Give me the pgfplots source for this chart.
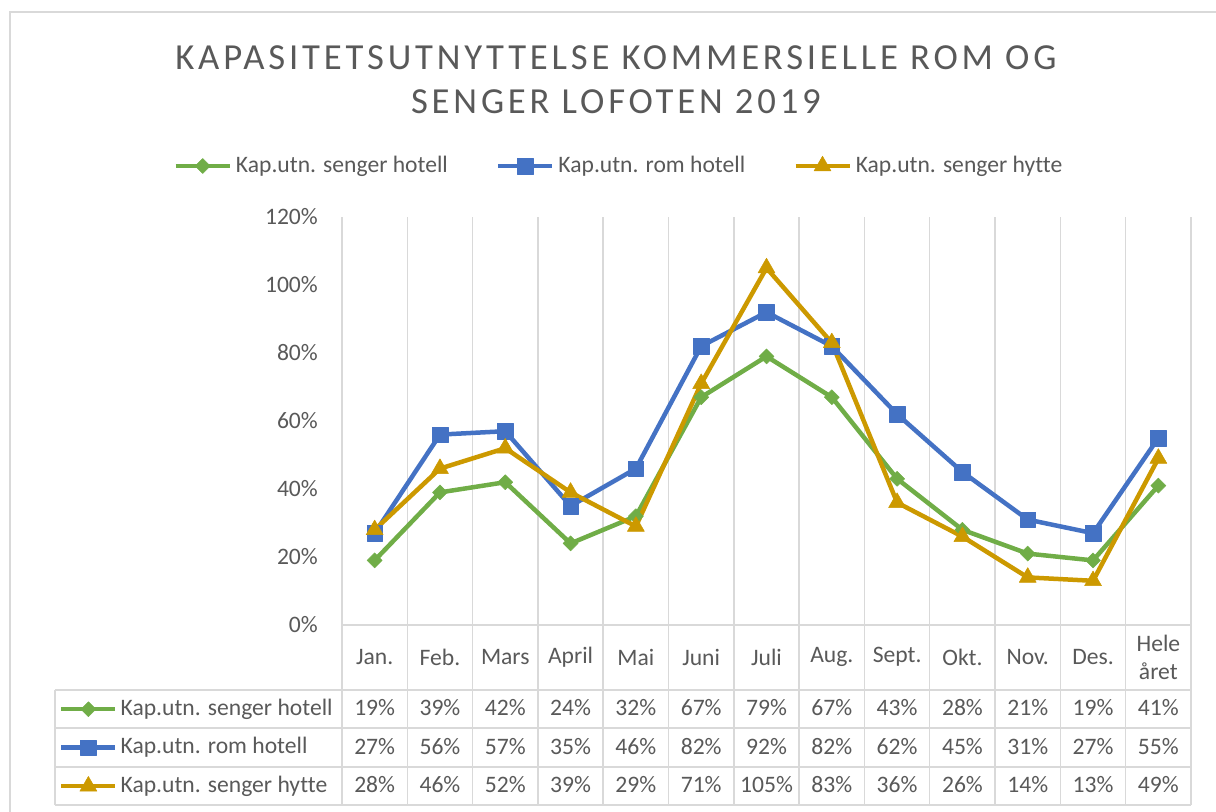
\documentclass[border=0pt]{standalone}
\usepackage{pgfplots}
\pgfplotsset{compat=1.18}
\usepackage{pgfplotstable}
\usepackage{fontspec}
\setmainfont{Carlito}[Ligatures=NoCommon]
\definecolor{cgreen}{HTML}{70AD47}
\definecolor{cblue}{HTML}{4472C4}
\definecolor{cgold}{HTML}{CC9900}
\definecolor{ctext}{HTML}{595959}
\definecolor{cgrid}{HTML}{D9D9D9}

\pgfplotstableread{
x a b c
0 19 27 28
1 39 56 46
2 42 57 52
3 24 35 39
4 32 46 29
5 67 82 71
6 79 92 105
7 67 82 83
8 43 62 36
9 28 45 26
10 21 31 14
11 19 27 13
12 41 55 49
}\data

\newcommand{\bodyfont}{\fontsize{23.6bp}{28bp}\selectfont}

\pgfplotsset{
  keyimg/.style={legend image code/.code={\draw[mark repeat=2,mark phase=2,##1] plot coordinates {(0bp,0bp)(27bp,0bp)(54bp,0bp)};}},
  sgreen/.style={cgreen, line width=4.5bp, line join=round, mark=square*, mark size=5.3bp, mark options={rotate=45, solid, line width=0.5bp}},
  sblue/.style={cblue, line width=4.5bp, line join=round, mark=square*, mark size=7.8bp, mark options={solid, line width=0.5bp}},
  sgold/.style={cgold, line width=4.5bp, line join=round, mark=triangle*, mark size=9.8bp, mark options={solid, line width=0.5bp}},
  tabrow/.style={forget plot, draw=none, mark=none, point meta=explicit,
    nodes near coords={\pgfmathprintnumber[fixed,precision=0]{\pgfplotspointmeta}\%},
    nodes near coords align=center,
    every node near coord/.append style={font=\bodyfont, text=ctext, inner sep=0pt}},
  base/.style={at={(342bp,-625bp)}, anchor=south west, scale only axis,
    width=849bp, height=408bp, xmin=-0.5, xmax=12.5, ymin=0, ymax=120, clip=false,
    /pgf/number format/assume math mode=true},
}

\begin{document}
\begin{tikzpicture}
\path[use as bounding box] (0,0) rectangle (1216bp,-812bp);
\begin{scope}[x=1bp,y=-1bp]
  \draw[cgrid, line width=1.5bp] (10,812) -- (10,12) -- (1216,12);
  \node[anchor=base, text=ctext, font=\fontsize{36.7bp}{44bp}\selectfont\addfontfeature{LetterSpace=10.4}] at (616,69) {KAPASITETSUTNYTTELSE KOMMERSIELLE ROM OG};
  \node[anchor=base, text=ctext, font=\fontsize{36.7bp}{44bp}\selectfont\addfontfeature{LetterSpace=10.4}] at (616,113) {SENGER LOFOTEN 2019};
  \foreach \k in {0,...,13} {
    \draw[cgrid, line width=1.5bp] ({342+\k*65.3},217) -- ({342+\k*65.3},805);
  }
  \draw[cgrid, line width=1.5bp] (342,625) -- (1191,625);
  \foreach \yy in {690,728,767,805} {
    \draw[cgrid, line width=1.5bp] (55,\yy) -- (1191,\yy);
  }
  \draw[cgrid, line width=1.5bp] (55,690) -- (55,805);
\end{scope}

\begin{axis}[base,
  axis line style={draw=none},
  major tick length=0pt,
  ytick={0,20,...,120},
  yticklabel={\pgfmathprintnumber{\tick}\%},
  yticklabel style={anchor=east, inner xsep=0pt, xshift=-24bp, font=\bodyfont, text=ctext},
  xtick={0,...,12},
  xticklabels={Jan.,Feb.,Mars,April,Mai,Juni,Juli,Aug.,Sept.,Okt.,Nov.,Des.,{Hele\\året}},
  xticklabel style={anchor=center, yshift=-32bp, align=center, font=\bodyfont, text=ctext},
  keyimg,
  legend columns=3,
  legend style={at={(0.325,1.125)}, anchor=center, draw=none, fill=none, inner sep=0pt,
    font=\bodyfont, text=ctext,
    nodes={inner sep=0pt, text height=20bp, text depth=8bp},
    /tikz/every odd column/.append style={column sep=4bp},
    /tikz/every even column/.append style={column sep=48bp}},
]
\addplot[sgreen] table[x=x,y=a]{\data};
\addlegendentry{Kap.utn. senger hotell}
\addplot[sblue] table[x=x,y=b]{\data};
\addlegendentry{Kap.utn. rom hotell}
\addplot[sgold] table[x=x,y=c]{\data};
\addlegendentry{Kap.utn. senger hytte}

\addplot[tabrow] table[x=x, y expr=-24.4, meta=a]{\data};
\addplot[tabrow] table[x=x, y expr=-35.6, meta=b]{\data};
\addplot[tabrow] table[x=x, y expr=-46.8, meta=c]{\data};
\end{axis}

\begin{axis}[base, hide axis, keyimg,
  legend cell align=left,
  legend style={at={(-0.3334,-0.1716)}, anchor=north west, draw=none, fill=none, inner sep=0pt,
    font=\bodyfont, text=ctext, row sep=10.5bp,
    nodes={inner sep=0pt, text height=20bp, text depth=8bp},
    /tikz/every odd column/.append style={column sep=3bp}},
]
\addlegendimage{sgreen}
\addlegendentry{Kap.utn. senger hotell}
\addlegendimage{sblue}
\addlegendentry{Kap.utn. rom hotell}
\addlegendimage{sgold}
\addlegendentry{Kap.utn. senger hytte}
\end{axis}
\end{tikzpicture}
\end{document}
